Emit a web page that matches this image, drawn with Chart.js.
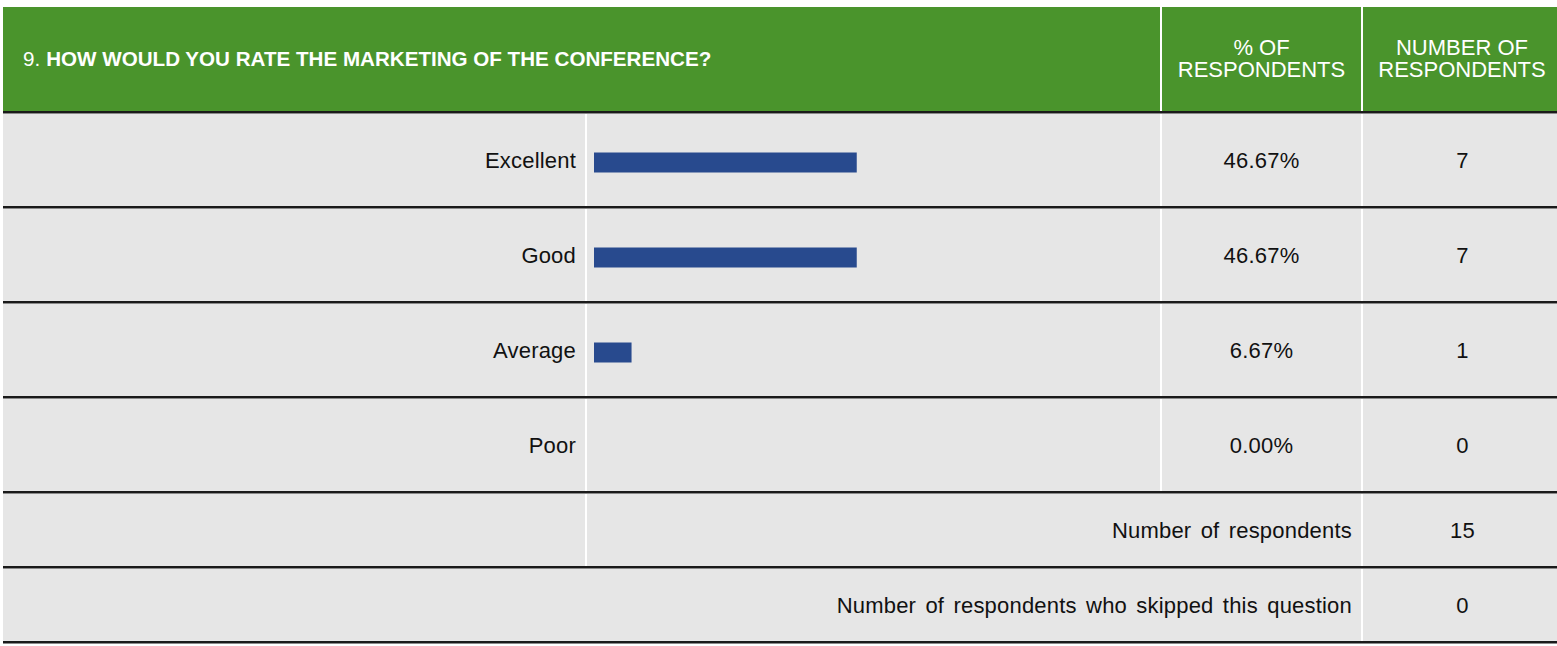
<!DOCTYPE html>
<html>
<head>
<meta charset="utf-8">
<script src="https://cdn.jsdelivr.net/npm/chart.js@4"></script>
<style>
    body { margin: 0; background: #fff; font-family: "Liberation Sans", Arial, sans-serif; color: #111; }
    #wrap { position: relative; width: 1557px; height: 646px; overflow: hidden; }
    .cell { position: absolute; background: #e6e6e6; display: flex; align-items: center; font-size: 22px; letter-spacing: 0.2px; word-spacing: 3px; box-sizing: border-box; padding-top: 3px; }
    .head { background: #4a942c; color: #fff; letter-spacing: 0; word-spacing: 0; padding-top: 0; }
    .line { position: absolute; left: 3px; right: 0; height: 2px; background: #1a1a1a; border-bottom: 1px solid #8a8a8a; }
    .right { justify-content: flex-end; }
    .center { justify-content: center; text-align: center; }
    #barCanvas { position: absolute; left: 594px; top: 115px; }
</style>
</head>
<body>
<div id="wrap">
    <canvas id="barCanvas" width="563" height="380"></canvas>
</div>
<script>
const questionNo = '9.';
const questionText = 'HOW WOULD YOU RATE THE MARKETING OF THE CONFERENCE?';
const columnTitles = ['% OF<br>RESPONDENTS', 'NUMBER OF<br>RESPONDENTS'];
const categories = ['Excellent', 'Good', 'Average', 'Poor'];
const percentages = [46.67, 46.67, 6.67, 0.00];
const counts = [7, 7, 1, 0];
const totalLabels = ['Number of respondents', 'Number of respondents who skipped this question'];
const totalValues = [15, 0];

const wrap = document.getElementById('wrap');

function addCell(left, top, width, height, html, cls, style) {
    const div = document.createElement('div');
    div.className = 'cell ' + (cls || '');
    div.style.left = left + 'px';
    div.style.top = top + 'px';
    div.style.width = width + 'px';
    div.style.height = height + 'px';
    if (style) div.style.cssText += style;
    div.innerHTML = html;
    wrap.insertBefore(div, wrap.firstChild);
    return div;
}

function addLine(top) {
    const div = document.createElement('div');
    div.className = 'line';
    div.style.top = top + 'px';
    wrap.appendChild(div);
}

// header
addCell(3, 7, 1157, 104, questionNo + ' <b style="margin-left:6px;">' + questionText + '</b>', 'head', 'padding-left:20px;font-size:20.6px;');
addCell(1162, 7, 199, 104, columnTitles[0], 'head center', 'line-height:22px;font-size:22px;');
addCell(1363, 7, 194, 104, columnTitles[1], 'head center', 'line-height:22px;font-size:22px;padding-left:4px;');
addLine(111);

// category rows
categories.forEach((cat, i) => {
    const top = 113 + i * 95;
    addCell(3, top, 582, 93, cat, 'right', 'padding-right:9px;');
    addCell(587, top, 573, 93, '');
    addCell(1162, top, 199, 93, percentages[i].toFixed(2) + '%', 'center');
    addCell(1363, top, 194, 93, String(counts[i]), 'center', 'padding-left:5px;');
    addLine(top + 93);
});

// totals
addCell(3, 493, 582, 73, '');
addCell(587, 493, 774, 73, totalLabels[0], 'right', 'padding-right:9px;');
addCell(1363, 493, 194, 73, String(totalValues[0]), 'center', 'padding-left:5px;');
addLine(566);
addCell(3, 568, 1358, 73, totalLabels[1], 'right', 'padding-right:9px;');
addCell(1363, 568, 194, 73, String(totalValues[1]), 'center', 'padding-left:5px;');
addLine(641);

// bars
const ctx = document.getElementById('barCanvas').getContext('2d');
new Chart(ctx, {
    type: 'bar',
    data: {
        labels: categories,
        datasets: [{
            data: percentages,
            backgroundColor: '#284a8e',
            barThickness: 20,
            inflateAmount: 0,
        }],
    },
    options: {
        indexAxis: 'y',
        responsive: false,
        animation: false,
        layout: { padding: 0 },
        plugins: { legend: { display: false }, tooltip: { enabled: false } },
        scales: {
            x: { display: false, min: 0, max: 100 },
            y: { display: false },
        },
    },
});
</script>
</body>
</html>
